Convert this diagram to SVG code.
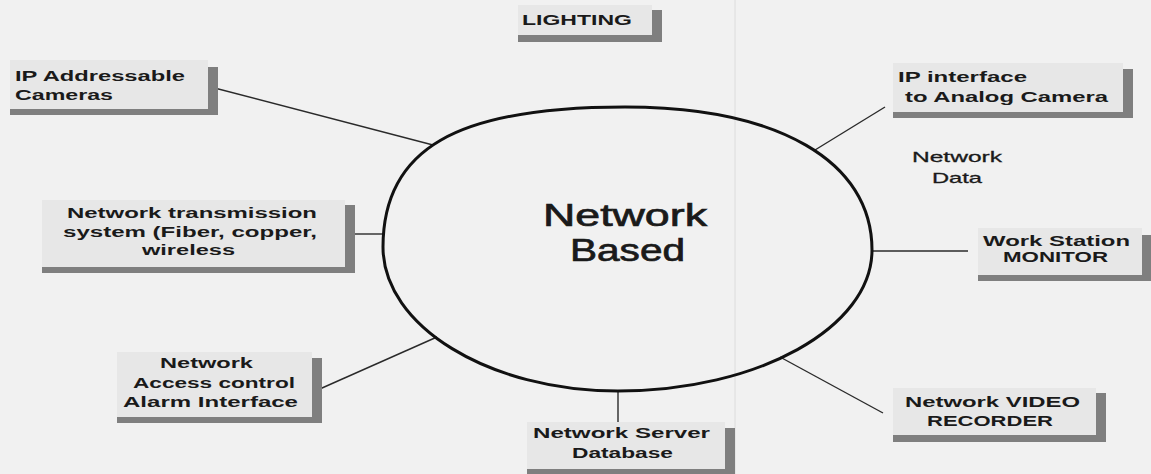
<svg xmlns="http://www.w3.org/2000/svg" width="1151" height="474" viewBox="0 0 1151 474">
<style>
.bg{fill:#f1f1f1}
.box{fill:#e7e7e7}
.sh{fill:#7f7f7f}
.t{font-family:"Liberation Sans",Arial,sans-serif;font-weight:bold;font-size:14.5px;fill:#1a1a1a}
.n{font-family:"Liberation Sans",Arial,sans-serif;font-size:15px;fill:#1a1a1a;stroke:#1a1a1a;stroke-width:0.3}
.c{font-family:"Liberation Sans",Arial,sans-serif;font-size:31px;fill:#1a1a1a;stroke:#1a1a1a;stroke-width:0.7}
.ln{stroke:#2a2a2a;stroke-width:1.4;fill:none}
</style>
<rect class="bg" x="0" y="0" width="1151" height="474"/>
<line x1="735" y1="0" x2="735" y2="474" stroke="#dcdcdc" stroke-width="1"/>
<g id="connectors">
<line class="ln" x1="203" y1="85" x2="433" y2="145"/>
<line class="ln" x1="815" y1="150" x2="885" y2="107"/>
<line class="ln" x1="355" y1="234" x2="385" y2="234"/>
<line class="ln" x1="872" y1="251" x2="968" y2="251"/>
<line class="ln" x1="313" y1="392" x2="437" y2="337"/>
<line class="ln" x1="618" y1="390" x2="618" y2="424"/>
<line class="ln" x1="780" y1="357" x2="883" y2="413"/>
</g>
<g id="hub">
<path d="M383,247 C383,149 456,107 625,107 C778,107 872,161 872,250 C872,327.6 757.7,391 618,391 C489,391 383,326 383,247 Z" fill="none" stroke="#111" stroke-width="3"/>
<text class="c" x="543" y="226" textLength="164" lengthAdjust="spacingAndGlyphs">Network</text>
<text class="c" x="570" y="261" textLength="115" lengthAdjust="spacingAndGlyphs">Based</text>
</g>
<g id="lighting">
<rect class="box" x="518" y="5" width="134" height="30"/>
<path class="sh" d="M652 10H662V42H518V35H652Z"/>
<text class="t" x="522" y="25" textLength="110" lengthAdjust="spacingAndGlyphs">LIGHTING</text>
</g>
<g id="ip-cameras">
<rect class="box" x="10" y="60" width="198" height="49"/>
<path class="sh" d="M208 67H218V115H10V109H208Z"/>
<text class="t" x="15" y="81" textLength="170" lengthAdjust="spacingAndGlyphs">IP Addressable</text>
<text class="t" x="15" y="100" textLength="98" lengthAdjust="spacingAndGlyphs">Cameras</text>
</g>
<g id="ip-interface">
<rect class="box" x="893" y="63" width="230" height="49"/>
<path class="sh" d="M1123 69H1133V118H893V112H1123Z"/>
<text class="t" x="898" y="82" textLength="129" lengthAdjust="spacingAndGlyphs">IP interface</text>
<text class="t" x="905" y="102" textLength="203" lengthAdjust="spacingAndGlyphs">to Analog Camera</text>
</g>
<g id="transmission">
<rect class="box" x="42" y="200" width="303" height="67"/>
<path class="sh" d="M345 205H355V273H42V267H345Z"/>
<text class="t" x="67" y="218" textLength="250" lengthAdjust="spacingAndGlyphs">Network transmission</text>
<text class="t" x="63" y="237" textLength="254" lengthAdjust="spacingAndGlyphs">system (Fiber, copper,</text>
<text class="t" x="142" y="255" textLength="93" lengthAdjust="spacingAndGlyphs">wireless</text>
</g>
<g id="network-data">
<text class="n" x="912" y="162" textLength="90" lengthAdjust="spacingAndGlyphs">Network</text>
<text class="n" x="932" y="183" textLength="50" lengthAdjust="spacingAndGlyphs">Data</text>
</g>
<g id="workstation">
<rect class="box" x="978" y="228" width="164" height="47"/>
<path class="sh" d="M1142 235H1152V281H978V275H1142Z"/>
<text class="t" x="983" y="246" textLength="147" lengthAdjust="spacingAndGlyphs">Work Station</text>
<text class="t" x="1003" y="262" textLength="105" lengthAdjust="spacingAndGlyphs">MONITOR</text>
</g>
<g id="access-control">
<rect class="box" x="117" y="352" width="195" height="65"/>
<path class="sh" d="M312 358H322V423H117V417H312Z"/>
<text class="t" x="160" y="368" textLength="93" lengthAdjust="spacingAndGlyphs">Network</text>
<text class="t" x="133" y="388" textLength="162" lengthAdjust="spacingAndGlyphs">Access control</text>
<text class="t" x="123" y="407" textLength="175" lengthAdjust="spacingAndGlyphs">Alarm Interface</text>
</g>
<g id="server">
<rect class="box" x="527" y="422" width="198" height="47"/>
<path class="sh" d="M725 428H735V476H527V469H725Z"/>
<text class="t" x="533" y="438" textLength="177" lengthAdjust="spacingAndGlyphs">Network Server</text>
<text class="t" x="572" y="458" textLength="101" lengthAdjust="spacingAndGlyphs">Database</text>
</g>
<g id="video-recorder">
<rect class="box" x="893" y="388" width="203" height="47"/>
<path class="sh" d="M1096 393H1106V442H893V435H1096Z"/>
<text class="t" x="905" y="407" textLength="175" lengthAdjust="spacingAndGlyphs">Network VIDEO</text>
<text class="t" x="927" y="426" textLength="126" lengthAdjust="spacingAndGlyphs">RECORDER</text>
</g>
</svg>
